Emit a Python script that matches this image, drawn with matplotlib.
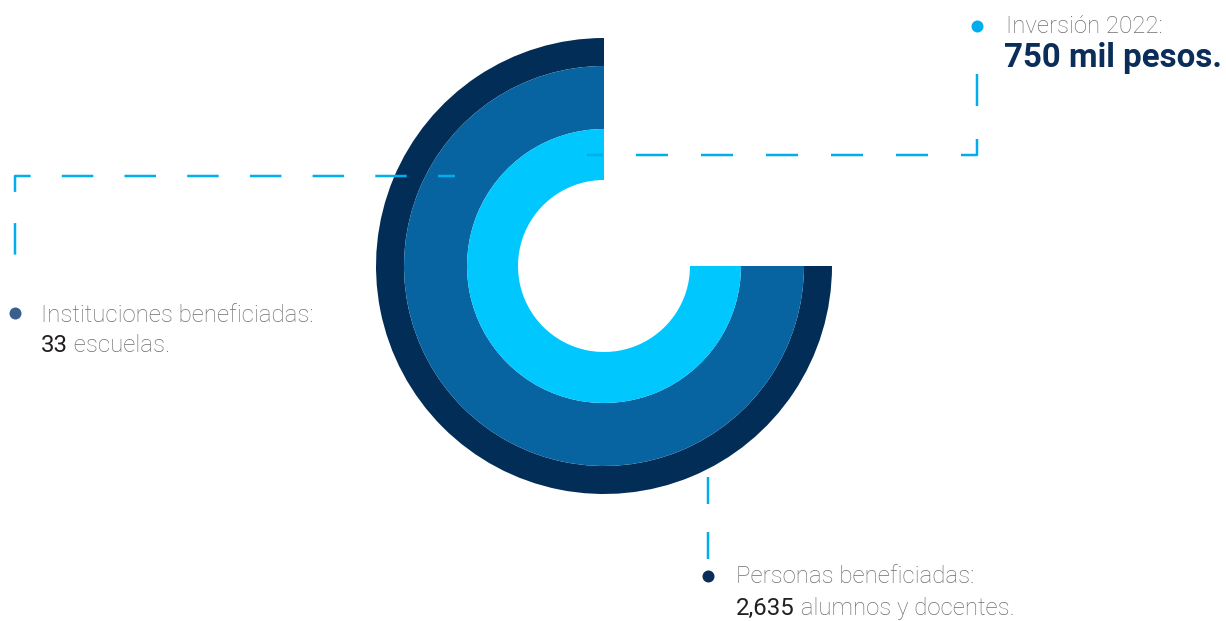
import matplotlib
matplotlib.use("Agg")
import matplotlib.pyplot as plt

# ---- data ----
ring_labels = ["Inversión 2022", "Personas beneficiadas", "Instituciones beneficiadas"]
ring_fractions = [0.75, 0.75, 0.75]          # share of the circle each ring covers
ring_colors = ["#022d57", "#0863a1", "#00c7fe"]

title_top = "Inversión 2022:"
value_top = "750 mil pesos."
title_left = "Instituciones beneficiadas:"
value_left = "33"
unit_left = " escuelas."
title_bottom = "Personas beneficiadas:"
value_bottom = "2,635"
unit_bottom = " alumnos y docentes."

# ---- figure setup (pixel-like coordinates) ----
W, H = 1226, 621
plt.rcParams['lines.scale_dashes'] = False
fig = plt.figure(figsize=(W / 100, H / 100), dpi=100)
ax = fig.add_axes([0, 0, 1, 1])

def Y(py):
    return H - py

PX = 72 / 100  # px -> pt

cx, cy = 604, Y(266)
radii = [228, 200, 137]
inner = 86
for i, (frac, col) in enumerate(zip(ring_fractions, ring_colors)):
    r = radii[i]
    w = r - (radii[i + 1] if i + 1 < len(radii) else inner)
    ax.pie([frac, 1 - frac], colors=[col, "none"], startangle=90, counterclock=True,
           radius=r, center=(cx, cy), wedgeprops=dict(width=w, linewidth=0))

ax.set_xlim(0, W)
ax.set_ylim(0, H)
ax.set_aspect("equal")
ax.axis("off")

dash_col = "#00aeef"
lw = 2.5 * PX

# connectors
ax.plot([587, 977, 977], [Y(155), Y(155), Y(48)], color=dash_col, lw=lw,
        linestyle=(16 * PX, (32 * PX, 33 * PX)), dash_capstyle="butt", zorder=5)
ax.plot([455, 15, 15], [Y(176), Y(176), Y(285)], color=dash_col, lw=lw,
        linestyle=(14.5 * PX, (31.5 * PX, 31.2 * PX)), dash_capstyle="butt", zorder=5)
ax.plot([708, 708], [Y(477), Y(560)], color=dash_col, lw=lw,
        linestyle=(0, (27 * PX, 28 * PX)), dash_capstyle="butt", zorder=5)

# dots
ds = (12 * PX) ** 2
ax.scatter([977], [Y(26)], s=ds, color="#00aeef", zorder=6, linewidths=0)
ax.scatter([15], [Y(313)], s=ds, color="#3a5f8f", zorder=6, linewidths=0)
ax.scatter([708], [Y(576)], s=ds, color="#0a2d5a", zorder=6, linewidths=0)

gray = "#6e6e6e"
dark = "#231f20"
navy = "#0a2d5a"
fam = ["Roboto", "DejaVu Sans"]
fs = 24 * PX

ax.text(1006, Y(33), title_top, fontsize=fs, color=gray, fontweight="light",
        family=fam, va="baseline", ha="left")
ax.text(1004, Y(67), value_top, fontsize=33 * PX, color=navy, fontweight="bold",
        family=fam, va="baseline", ha="left")

ax.text(41, Y(322), title_left, fontsize=fs, color=gray, fontweight="light",
        family=fam, va="baseline", ha="left")
t = ax.text(41, Y(357), value_left, fontsize=fs, color=dark, fontweight="normal",
            family=fam, va="bottom", ha="left")
ax.annotate(unit_left, xy=(1, 0), xycoords=t, fontsize=fs, color=gray, fontweight="light",
            family=fam, va="bottom", ha="left")

ax.text(736, Y(583), title_bottom, fontsize=fs, color=gray, fontweight="light",
        family=fam, va="baseline", ha="left")
t2 = ax.text(736, Y(620), value_bottom, fontsize=fs, color=dark, fontweight="normal",
             family=fam, va="bottom", ha="left")
ax.annotate(unit_bottom, xy=(1, 0), xycoords=t2, fontsize=fs, color=gray, fontweight="light",
            family=fam, va="bottom", ha="left")

fig.savefig("out.png", dpi=100)
